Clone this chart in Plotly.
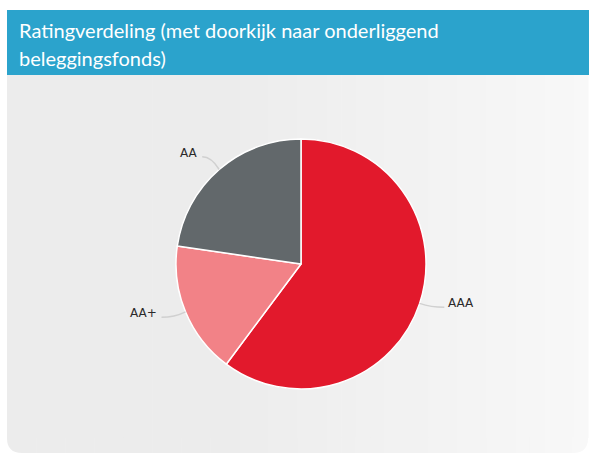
import math
import plotly.graph_objects as go

W, H = 589, 455

labels = ["AAA", "AA+", "AA"]
values = [60.2, 17.1, 22.7]
colors = ["#e2192c", "#f28287", "#62686b"]

title_lines = ["Ratingverdeling (met doorkijk naar onderliggend", "beleggingsfonds)"]

# pie geometry in pixels
cx, cy, r = 301, 264, 125


def blend(c1, c2, t):
    return "rgb(%d,%d,%d)" % tuple(round(a + (b - a) * t) for a, b in zip(c1, c2))


fig = go.Figure()

fig.add_trace(go.Pie(
    labels=labels, values=values, sort=False, direction="clockwise", rotation=0,
    marker=dict(colors=colors, line=dict(color="white", width=1.5)),
    textinfo="none", hoverinfo="skip", showlegend=False,
    domain=dict(x=[(cx - r) / W, (cx + r) / W], y=[1 - (cy + r) / H, 1 - (cy - r) / H]),
))

shapes = []
# header
shapes.append(dict(type="rect", x0=7, x1=W + 2, y0=10, y1=75, fillcolor="#2ba3cc",
                   line_width=0, layer="below"))
# panel with gradient (strips), rounded bottom corners
rad = 15
n = 40
left, right = 7, W - 1
for i in range(n):
    x0 = left + (right - left) * i / n
    x1 = left + (right - left) * (i + 1) / n + 0.6
    t = max(0.0, (i / n - 0.35) / 0.65)
    col = blend((236, 236, 236), (248, 248, 248), t)
    shapes.append(dict(type="rect", x0=x0, x1=x1, y0=75, y1=453 - rad, fillcolor=col,
                       line_width=0, layer="below"))
    xa, xb = max(x0, left + rad), min(x1, right - rad)
    if xb > xa:
        shapes.append(dict(type="rect", x0=xa, x1=xb, y0=453 - rad - 1, y1=453,
                           fillcolor=col, line_width=0, layer="below"))
# corners
shapes.append(dict(type="path", path=f"M {left},{453-rad-1} L {left+rad+1},{453-rad-1} L {left+rad+1},453 "
                   f"L {left+rad},453 Q {left},453 {left},{453-rad} Z",
                   fillcolor="rgb(236,236,236)", line_width=0, layer="below"))
shapes.append(dict(type="path", path=f"M {right},{453-rad-1} L {right-rad-1},{453-rad-1} L {right-rad-1},453 "
                   f"L {right-rad},453 Q {right},453 {right},{453-rad} Z",
                   fillcolor="rgb(248,248,248)", line_width=0, layer="below"))

annotations = []
for i, line in enumerate(title_lines):
    annotations.append(dict(x=17, y=30 + i * 28, xref="x", yref="y", text=line, showarrow=False,
                            xanchor="left", yanchor="middle",
                            font=dict(family="Lato", size=20, color="white")))

# data labels with curved connectors
total = sum(values)
start = 0.0
for lab, v in zip(labels, values):
    mid = (start + v / 2) / total * 2 * math.pi
    start += v
    sx, sy = math.sin(mid), -math.cos(mid)
    ex, ey = cx + r * sx, cy + r * sy
    kx, ky = cx + (r + 12) * sx, cy + (r + 12) * sy
    side = 1 if sx >= 0 else -1
    lx = cx + (r + 26) * sx
    ty = cy + (r + 22) * sy - (7 if sy > 0 else 0)
    ly = ty + 4
    shapes.append(dict(type="path", path=f"M {ex:.1f},{ey:.1f} Q {kx:.1f},{ly:.1f} {lx:.1f},{ly:.1f}",
                       line=dict(color="#d0d0d0", width=1.5), layer="above"))
    annotations.append(dict(x=lx + side * 2, y=ty, xref="x", yref="y", text=lab, showarrow=False,
                            xanchor="left" if side > 0 else "right", yanchor="middle",
                            font=dict(family="DejaVu Sans", size=12, color="#2a2a2a")))

fig.update_layout(
    width=W, height=H, margin=dict(l=0, r=0, t=0, b=0),
    paper_bgcolor="white", plot_bgcolor="rgba(0,0,0,0)",
    xaxis=dict(range=[0, W], visible=False, fixedrange=True),
    yaxis=dict(range=[H, 0], visible=False, fixedrange=True),
    shapes=shapes, annotations=annotations, showlegend=False,
)

fig.write_html("out.html", config={"displayModeBar": False},
               post_script="document.body.style.margin='0';document.body.style.overflow='hidden';")
